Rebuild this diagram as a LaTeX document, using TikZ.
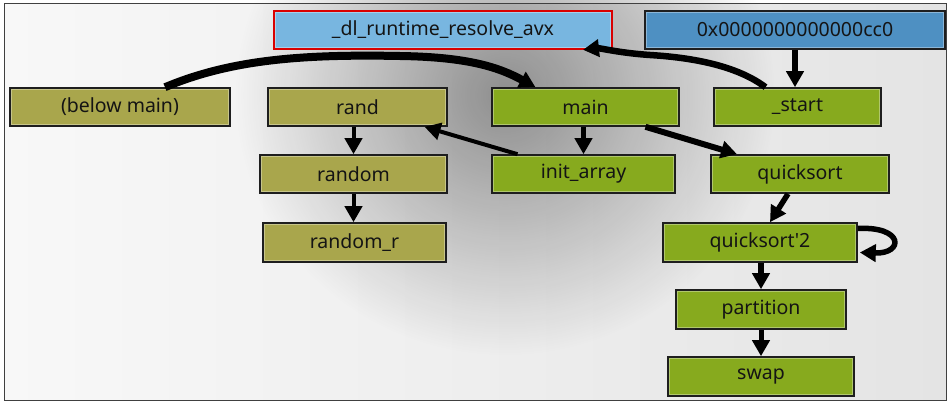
\documentclass[tikz,border=0pt]{standalone}
\usepackage{fontspec}
\setmainfont{Noto Sans}
\usetikzlibrary{arrows.meta,calc,fadings}
\definecolor{boxolive}{HTML}{A9A64C}
\definecolor{boxgreen}{HTML}{87AA1E}
\definecolor{boxlblue}{HTML}{78B6E0}
\definecolor{boxsteel}{HTML}{4E90C2}
\definecolor{boxedge}{HTML}{1E1E1E}
\definecolor{bgleft}{HTML}{F8F8F8}
\definecolor{bgmid}{HTML}{C4C4C4}
\definecolor{bgright}{HTML}{E4E4E4}
\tikzfading[name=softblob, inner color=transparent!0, outer color=transparent!100]
\tikzset{
  fn/.style={rectangle, draw=boxedge, line width=1.6pt, minimum height=38pt, inner sep=0pt,
    font=\fontsize{19.5}{21}\selectfont, text=black!92,
    path picture={\draw[white,opacity=0.35,line width=1.2pt]
      ([shift={(1.6pt,-1.6pt)}]path picture bounding box.north west) rectangle
      ([shift={(-1.6pt,1.6pt)}]path picture bounding box.south east);}},
  olivebox/.style={fn, fill=boxolive},
  greenbox/.style={fn, fill=boxgreen},
  conn/.style={draw=black, line width=4.5pt, -{Triangle[length=16pt,width=17pt]}},
}
\begin{document}
\begin{tikzpicture}[x=1pt,y=-1pt]
\useasboundingbox (0,0) rectangle (951,402);
\fill[white] (0,0) rectangle (951,402);
\shade[left color=bgleft, middle color=bgmid, right color=bgright] (4,3) rectangle (946,400);
\fill[black, opacity=0.4, path fading=softblob] (505,95) ellipse [x radius=270pt, y radius=260pt];
\draw[black!75, line width=1pt] (4,3) rectangle (946,400);

\node[fn, fill=boxlblue, draw=red!85!black, minimum width=338pt] (dl) at (443,30) {\_dl\_runtime\_resolve\_avx};
\node[fn, fill=boxsteel, minimum width=300pt] (cc0) at (795,30) {0x0000000000000cc0};
\node[olivebox, minimum width=220pt] (below) at (120,107) {(below main)};
\node[olivebox, minimum width=179pt] (rand) at (357.5,107) {rand};
\node[greenbox, minimum width=187pt] (main) at (585.5,107) {main};
\node[greenbox, minimum width=167pt] (start) at (797.5,107) {\_start};
\node[olivebox, minimum width=187pt] (random) at (353.5,174) {random};
\node[greenbox, minimum width=183pt] (init) at (583.5,174) {init\_array};
\node[greenbox, minimum width=178pt] (qs) at (800,174) {quicksort};
\node[olivebox, minimum width=183pt, minimum height=39pt] (randr) at (354.5,242.5) {random\_r};
\node[greenbox, minimum width=194pt, minimum height=39pt] (qs2) at (760,242.5) {quicksort\textquotesingle 2};
\node[greenbox, minimum width=170pt, minimum height=39pt] (part) at (761,309.5) {partition};
\node[greenbox, minimum width=186pt, minimum height=39pt] (swap) at (761,376.5) {swap};

\draw[conn, line width=8pt] ([xshift=45pt]below.north) .. controls (230,60) and (300,54) .. (400,56) .. controls (470,57) and (500,68) .. ([xshift=-50pt]main.north);
\draw[conn, line width=6.5pt] ([xshift=-32pt]start.north) .. controls (740,68) and (700,58) .. (650,55) .. controls (620,53) and (600,48) .. ([xshift=140pt]dl.south);
\draw[conn, line width=6.5pt] (cc0.south) -- (cc0.south |- start.north);
\draw[conn] (init.north |- main.south) -- (init.north);
\draw[conn, line width=6pt] ([xshift=60pt]main.south) -- ([xshift=-63pt]qs.north);
\draw[conn, line width=4pt] ([xshift=-66pt]init.north) -- ([xshift=67pt]rand.south);
\draw[conn, line width=4pt] (random.north |- rand.south) -- (random.north);
\draw[conn, line width=4pt] (random.south) -- (random.south |- randr.north);
\draw[conn, line width=5.5pt] ([xshift=-12pt]qs.south) -- ([xshift=10pt]qs2.north);
\draw[conn, line width=5.5pt] ([yshift=14pt]qs2.east) .. controls (904,226) and (904,254) .. ([yshift=-10pt,xshift=2pt]qs2.east);
\draw[conn, line width=5.5pt] (part.north |- qs2.south) -- (part.north);
\draw[conn, line width=5pt] (part.south) -- (part.south |- swap.north);
\end{tikzpicture}
\end{document}
